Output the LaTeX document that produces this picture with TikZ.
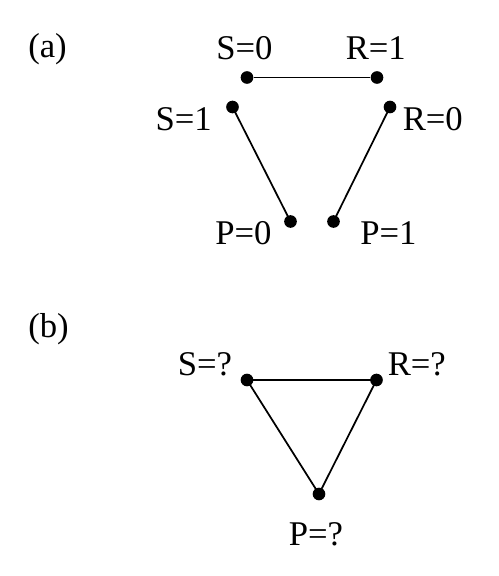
\documentclass[tikz,border=0pt]{standalone}
\usepackage{fontspec}
\setmainfont{Liberation Serif}
\begin{document}
\begin{tikzpicture}[x=0.75pt,y=-0.75pt,
  dot/.style={circle,fill=black,inner sep=0pt,minimum size=9.5pt},
  lbl/.style={inner sep=0pt,anchor=base west,font=\fontsize{26}{30}\selectfont},
  edge/.style={line width=1.3pt}]
\useasboundingbox (0,0) rectangle (499,576);
% (a)
\node[lbl] (la) at (28,57) {(a)};
\node[dot] (s0) at (247,77.5) {};
\node[dot] (r1) at (377,77.5) {};
\node[dot] (s1) at (232.5,107) {};
\node[dot] (r0) at (390,107) {};
\node[dot] (p0) at (290.5,221.5) {};
\node[dot] (p1) at (333.5,221.5) {};
\node[lbl] (ts0) at (216,59) {S=0};
\node[lbl] (tr1) at (345.5,59) {R=1};
\node[lbl,anchor=base east] (ts1) at (212,130) {S=1};
\node[lbl] (tr0) at (402.5,130) {R=0};
\node[lbl] (tp0) at (215,244) {P=0};
\node[lbl] (tp1) at (360,244) {P=1};
\draw[edge] (s0) -- (r1);
\draw[edge] (s1.center) -- (p0.center);
\draw[edge] (r0.center) -- (p1.center);
% (b)
\node[lbl] (lb) at (28,337) {(b)};
\node[dot] (sq) at (247,380) {};
\node[dot] (rq) at (376.5,380) {};
\node[dot] (pq) at (319,494) {};
\node[lbl] (tsq) at (177.5,375) {S=?};
\node[lbl] (trq) at (387.5,375) {R=?};
\node[lbl] (tpq) at (288.5,545) {P=?};
\draw[edge] (sq.center) -- (rq.center) -- (pq.center) -- cycle;
\end{tikzpicture}
\end{document}
